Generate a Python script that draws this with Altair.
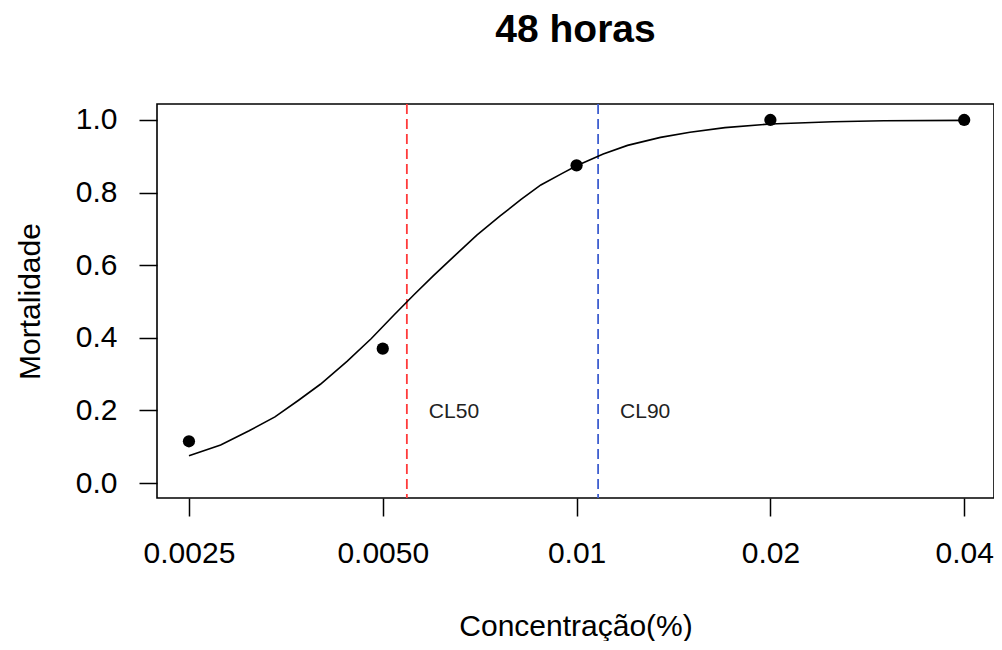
import altair as alt
import pandas as pd

# Observed data points
conc = [0.0025, 0.005, 0.01, 0.02, 0.04]
mort = [0.115, 0.37, 0.875, 1.0, 1.0]

# Fitted curve
curve_x = [0.0025, 0.0028, 0.0031, 0.0034, 0.0037, 0.0040, 0.0044, 0.0048, 0.0052,
           0.0056, 0.0060, 0.0065, 0.0070, 0.0076, 0.0082, 0.0088, 0.0095, 0.0100,
           0.0110, 0.0120, 0.0135, 0.0150, 0.0170, 0.0200, 0.0250, 0.0300, 0.0400]
curve_y = [0.075, 0.105, 0.144, 0.182, 0.228, 0.272, 0.335, 0.398, 0.462,
           0.520, 0.572, 0.630, 0.683, 0.735, 0.781, 0.821, 0.853, 0.874,
           0.906, 0.930, 0.952, 0.966, 0.979, 0.989, 0.995, 0.998, 0.999]

# Lethal concentrations
cl_names = ["CL50", "CL90"]
cl_values = [0.00545, 0.0108]
cl_colors = ["#ff3b3b", "#3f5fcf"]
label_y = [0.2, 0.2]

x_ticks = [0.0025, 0.005, 0.01, 0.02, 0.04]
x_tick_labels = ["0.0025", "0.0050", "0.01", "0.02", "0.04"]

pts = pd.DataFrame({"x": conc, "y": mort})
crv = pd.DataFrame({"x": curve_x, "y": curve_y})
cl = pd.DataFrame({"x": cl_values, "name": cl_names, "color": cl_colors, "y": label_y})

FONT = "Liberation Sans"
label_expr = " : ".join(
    f"datum.value < {v * 1.01} && datum.value > {v * 0.99} ? '{l}'" for v, l in zip(x_ticks, x_tick_labels)
) + " : ''"

xscale = alt.Scale(type="log", domain=[0.00223, 0.0445], nice=False)
yscale = alt.Scale(domain=[-0.0413, 1.044], nice=False, zero=False)

xaxis = alt.Axis(values=x_ticks, labelExpr=label_expr, title="Concentração(%)",
                 grid=False, domain=False, tickSize=18, tickWidth=1.5, tickColor="black",
                 labelFont=FONT, labelFontSize=30, labelColor="black", labelPadding=22,
                 titleFont=FONT, titleFontSize=30, titleFontWeight="normal", titleColor="black",
                 titleY=137, titleBaseline="alphabetic", labelFlush=False)
yaxis = alt.Axis(values=[0, 0.2, 0.4, 0.6, 0.8, 1.0], format=".1f", title="Mortalidade",
                 grid=False, domain=False, tickSize=18, tickWidth=1.5, tickColor="black",
                 labelFont=FONT, labelFontSize=30, labelColor="black", labelPadding=22,
                 titleFont=FONT, titleFontSize=30, titleFontWeight="normal", titleColor="black",
                 titleX=-127, titleBaseline="middle", labelFlush=False)

line = alt.Chart(crv).mark_line(color="black", strokeWidth=1.6).encode(
    x=alt.X("x:Q", scale=xscale, axis=xaxis),
    y=alt.Y("y:Q", scale=yscale, axis=yaxis),
)

points = alt.Chart(pts).mark_circle(color="black", opacity=1, size=150).encode(
    x=alt.X("x:Q", scale=xscale), y=alt.Y("y:Q", scale=yscale)
)

rules = alt.Chart(cl).mark_rule(strokeDash=[10, 5], strokeWidth=1.8).encode(
    x=alt.X("x:Q", scale=xscale),
    color=alt.Color("color:N", scale=None),
)

texts = alt.Chart(cl).mark_text(align="left", baseline="middle", dx=22, dy=2,
                                font=FONT, fontSize=21, color="#222222").encode(
    x=alt.X("x:Q", scale=xscale), y=alt.Y("y:Q", scale=yscale), text="name:N"
)

chart = alt.layer(rules, line, points, texts).properties(
    width=837, height=394,
    title=alt.TitleParams("48 horas", font=FONT, fontSize=39, fontWeight="bold",
                          color="black", anchor="middle", offset=53),
    autosize=alt.AutoSizeParams(type="none"),
    padding={"left": 149, "top": 96, "right": 0, "bottom": 143},
).configure_view(stroke="black", strokeWidth=1.6)

chart.save("out.html", embed_options={"renderer": "svg", "actions": False})
